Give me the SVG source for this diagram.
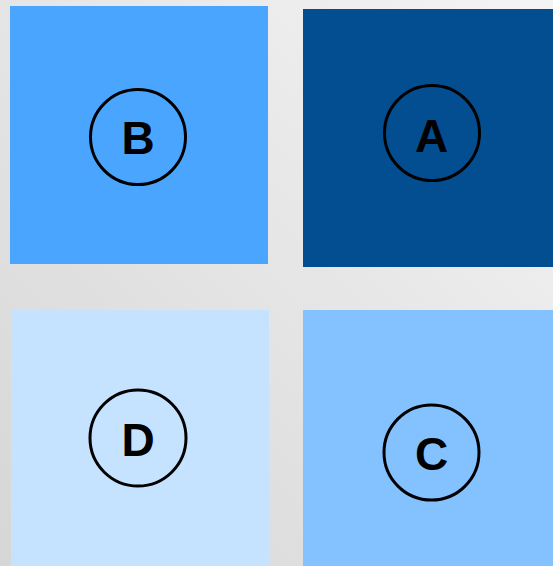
<svg xmlns="http://www.w3.org/2000/svg" width="553" height="566" viewBox="0 0 553 566">
<defs>
<linearGradient id="bg" x1="0" y1="1" x2="1" y2="0">
<stop offset="0" stop-color="#d6d6d6"/>
<stop offset="1" stop-color="#f4f4f4"/>
</linearGradient>
</defs>
<style>
.ring{fill:none;stroke:#000;stroke-width:3}
.lbl{font-family:"Liberation Sans",Arial,sans-serif;font-weight:bold;font-size:46px;fill:#000;text-anchor:middle}
</style>
<rect x="0" y="0" width="553" height="566" fill="url(#bg)"/>
<g id="connectors"></g>
<g id="node-B">
<rect x="10" y="6" width="258" height="258" fill="#4aa5ff"/>
<circle class="ring" cx="138" cy="137" r="47.5"/>
<text class="lbl" x="138" y="154">B</text>
</g>
<g id="node-A">
<rect x="303" y="9" width="250" height="258" fill="#024e91"/>
<circle class="ring" cx="432" cy="133" r="47.5"/>
<text class="lbl" x="431.5" y="151.5">A</text>
</g>
<g id="node-D">
<rect x="11" y="310" width="258" height="256" fill="#c5e2ff"/>
<circle class="ring" cx="138" cy="438" r="48"/>
<text class="lbl" x="138" y="456">D</text>
</g>
<g id="node-C">
<rect x="303" y="310" width="250" height="256" fill="#84c1ff"/>
<circle class="ring" cx="431.5" cy="452.5" r="47.5"/>
<text class="lbl" x="431.5" y="470">C</text>
</g>
</svg>
